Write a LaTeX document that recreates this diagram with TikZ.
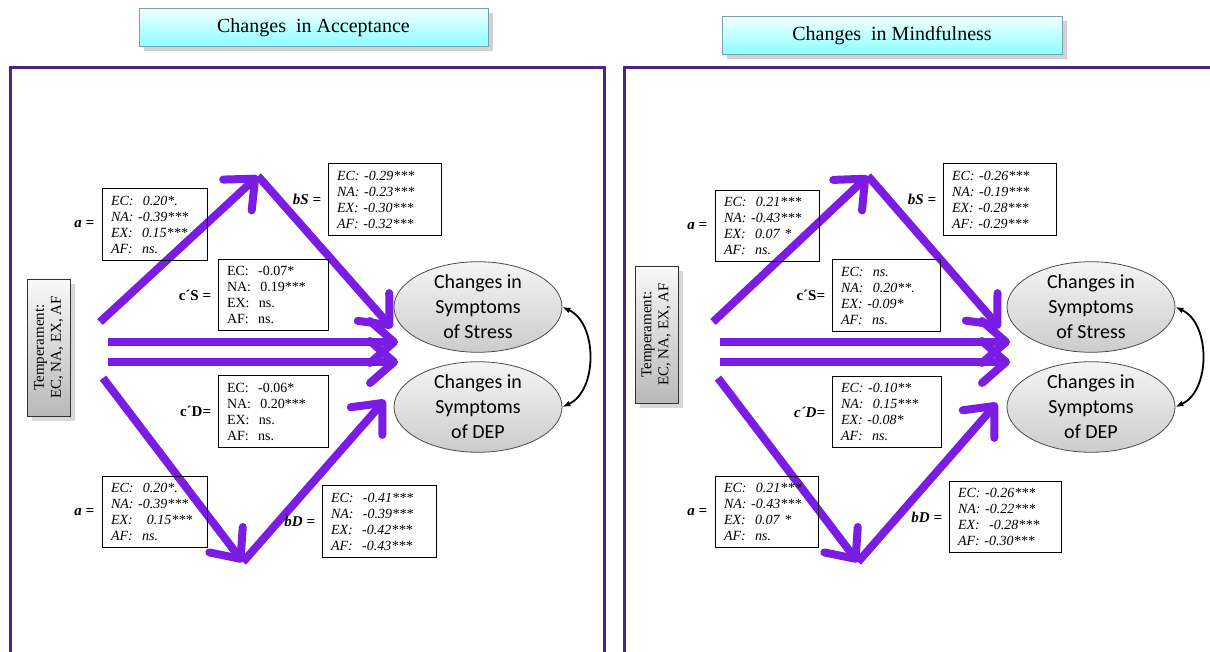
\documentclass[tikz,border=0pt]{standalone}
\usepackage{fontspec}
\setmainfont{Liberation Serif}
\newfontfamily\calibriFont{Carlito}
\usepackage{tikz}
\usetikzlibrary{shapes, positioning, arrows.meta, calc, shadows}
\definecolor{pathViolet}{HTML}{7A1CE3}
\definecolor{frameViolet}{HTML}{4E2383}
\newcommand{\tempText}{\rotatebox{90}{\begin{tabular}{@{}c@{}}Temperament:\\EC, NA, EX, AF\end{tabular}}}
\tikzstyle{panelFrame}=[draw=frameViolet, line width=1.5pt]
\tikzstyle{titleBox}=[draw=cyan!35!gray, top color=cyan!6, bottom color=cyan!45,
  drop shadow={opacity=0.35}, minimum height=19pt, inner sep=0pt,
  font=\fontsize{10}{12}\selectfont]
\tikzstyle{tempBox}=[draw=black!80, top color=gray!5, bottom color=gray!55,
  drop shadow={opacity=0.3}, minimum height=68.5pt, minimum width=21.5pt,
  inner sep=0pt, font=\fontsize{7.5}{8.5}\selectfont]
\tikzstyle{outcome}=[ellipse, draw=black!70, top color=gray!8, bottom color=gray!40,
  minimum width=84pt, minimum height=45pt, inner sep=0pt, align=center,
  font=\calibriFont\fontsize{10}{12.5}\selectfont]
\tikzstyle{pathArrow}=[draw=pathViolet, line width=4pt,
  -{Straight Barb[length=12pt, width=21pt, round]}]
\tikzstyle{corrArrow}=[draw=black, line width=0.9pt, {Latex[length=4pt]}-{Latex[length=4pt]}]
\tikzstyle{statBox}=[draw=black, line width=0.5pt, align=left, inner xsep=4.5pt,
  inner ysep=3.5pt, font=\itshape\fontsize{7}{8}\selectfont]
\tikzstyle{statBoxUp}=[statBox, font=\fontsize{7}{8}\selectfont]
\tikzstyle{pathLabel}=[inner sep=0.5pt, font=\bfseries\itshape\fontsize{7.5}{9}\selectfont]
\tikzstyle{pathLabelUp}=[pathLabel, font=\bfseries\fontsize{7.5}{9}\selectfont]

\begin{document}
\begin{tikzpicture}[x=0.5pt, y=-0.5pt]
  \useasboundingbox (0,0) rectangle (1210,652);
  \fill[white] (0,0) rectangle (1210,652);
  \clip (0,0) rectangle (1210,652);

  % ---------- left panel: acceptance
  \node[titleBox, minimum width=174.5pt] (titleL) at (313.5,27.5) {Changes\ \ in Acceptance};
  \draw[panelFrame] (10,670) -- (10,68) -- (604,68) -- (604,670);
  \node[tempBox] (tempL) at (49,347.5) {\tempText};

  \coordinate (aUpStartL) at (100,322);
  \coordinate (aUpTipL) at (258,176);
  \coordinate (aDnStartL) at (103,378);
  \coordinate (aDnTipL) at (243,562);
  \coordinate (hOneStartL) at (108,342);
  \coordinate (hOneEndL) at (398,342);
  \coordinate (hTwoStartL) at (108,362);
  \coordinate (hTwoEndL) at (398,362);
  \coordinate (bSEndL) at (392,328);
  \coordinate (bDEndL) at (385,400);

  \draw[pathArrow] (aUpStartL) -- (aUpTipL);
  \draw[pathArrow] (aUpTipL) -- (bSEndL);
  \draw[pathArrow] (hOneStartL) -- (hOneEndL);
  \draw[pathArrow] (hTwoStartL) -- (hTwoEndL);
  \draw[pathArrow] (aDnStartL) -- (aDnTipL);
  \draw[pathArrow] (aDnTipL) -- (bDEndL);

  \node[outcome] (stressL) at (478,307) {Changes in\\Symptoms\\of Stress};
  \node[outcome] (depL) at (478,407) {Changes in\\Symptoms\\of DEP};
  \draw[corrArrow] (stressL.east) to[bend left=65] (depL.east);

  \node[statBox, text width=43.5pt] (aTopL) at (154.5,224.5)
    {EC:~~0.20*.\\NA:~-0.39***\\EX:~~0.15***\\AF:~~ns.};
  \node[statBox, text width=47.5pt] (bSL) at (384.5,199.5)
    {EC:~-0.29***\\NA:~-0.23***\\EX:~-0.30***\\AF:~-0.32***};
  \node[statBoxUp, text width=46pt] (cSL) at (273,295)
    {EC:~~-0.07*\\NA:~~0.19***\\EX:~~ns.\\AF:~~ns.};
  \node[statBoxUp, text width=46pt] (cDL) at (273,411.5)
    {EC:~~-0.06*\\NA:~~0.20***\\EX:~~ns.\\AF:~~ns.};
  \node[statBox, text width=43.5pt] (aBotL) at (154.5,512)
    {EC:~~0.20*.\\NA:~-0.39***\\EX:~~~0.15***\\AF:~~ns.};
  \node[statBox, text width=48pt] (bDL) at (379,521.5)
    {EC:~~-0.41***\\NA:~~-0.39***\\EX:~~-0.42***\\AF:~~-0.43***};

  \node[pathLabel, left=3pt of aTopL] (aTopLabL) {a =};
  \node[pathLabel, left=2.5pt of bSL] (bSLabL) {bS =};
  \node[pathLabelUp, left=2.5pt of cSL] (cSLabL) {c´S =};
  \node[pathLabelUp, left=2.5pt of cDL] (cDLabL) {c´D=};
  \node[pathLabel, left=3pt of aBotL] (aBotLabL) {a =};
  \node[pathLabel, left=2.5pt of bDL] (bDLabL) {bD =};

  % ---------- right panel: mindfulness
  \node[titleBox, minimum width=170pt] (titleR) at (892,35.5) {Changes\ \ in Mindfulness};
  \draw[panelFrame] (624,670) -- (624,68) -- (1230,68);
  \node[tempBox] (tempR) at (656.5,334.5) {\tempText};

  \coordinate (aUpStartR) at (713,322);
  \coordinate (aUpTipR) at (868,176);
  \coordinate (aDnStartR) at (718,378);
  \coordinate (aDnTipR) at (858,562);
  \coordinate (hOneStartR) at (720,342);
  \coordinate (hOneEndR) at (1010,342);
  \coordinate (hTwoStartR) at (720,362);
  \coordinate (hTwoEndR) at (1010,362);
  \coordinate (bSEndR) at (1000,328);
  \coordinate (bDEndR) at (997,403);

  \draw[pathArrow] (aUpStartR) -- (aUpTipR);
  \draw[pathArrow] (aUpTipR) -- (bSEndR);
  \draw[pathArrow] (hOneStartR) -- (hOneEndR);
  \draw[pathArrow] (hTwoStartR) -- (hTwoEndR);
  \draw[pathArrow] (aDnStartR) -- (aDnTipR);
  \draw[pathArrow] (aDnTipR) -- (bDEndR);

  \node[outcome] (stressR) at (1091,307) {Changes in\\Symptoms\\of Stress};
  \node[outcome] (depR) at (1091,407) {Changes in\\Symptoms\\of DEP};
  \draw[corrArrow] (stressR.east) to[bend left=65] (depR.east);

  \node[statBox, text width=43pt] (aTopR) at (767,226)
    {EC:~~0.21***\\NA:~-0.43***\\EX:~~0.07~*\\AF:~~ns.};
  \node[statBox, text width=47.5pt] (bSR) at (999.5,199.5)
    {EC:~-0.26***\\NA:~-0.19***\\EX:~-0.28***\\AF:~-0.29***};
  \node[statBox, text width=45pt] (cSR) at (886,295.5)
    {EC:~~ns.\\NA:~~0.20**.\\EX:~-0.09*\\AF:~~ns.};
  \node[statBox, text width=45.5pt] (cDR) at (886.5,412)
    {EC:~-0.10**\\NA:~~0.15***\\EX:~-0.08*\\AF:~~ns.};
  \node[statBox, text width=42.5pt] (aBotR) at (766.5,512)
    {EC:~~0.21***\\NA:~-0.43***\\EX:~~0.07~*\\AF:~~ns.};
  \node[statBox, text width=47pt] (bDR) at (1005,517)
    {EC:~-0.26***\\NA:~-0.22***\\EX:~~-0.28***\\AF:~-0.30***};

  \node[pathLabel, left=3pt of aTopR] (aTopLabR) {a =};
  \node[pathLabel, left=2.5pt of bSR] (bSLabR) {bS =};
  \node[pathLabelUp, left=2.5pt of cSR] (cSLabR) {c´S=};
  \node[pathLabel, left=2.5pt of cDR] (cDLabR) {c´D=};
  \node[pathLabel, left=3pt of aBotR] (aBotLabR) {a =};
  \node[pathLabel, left=2.5pt of bDR] (bDLabR) {bD =};
\end{tikzpicture}
\end{document}
